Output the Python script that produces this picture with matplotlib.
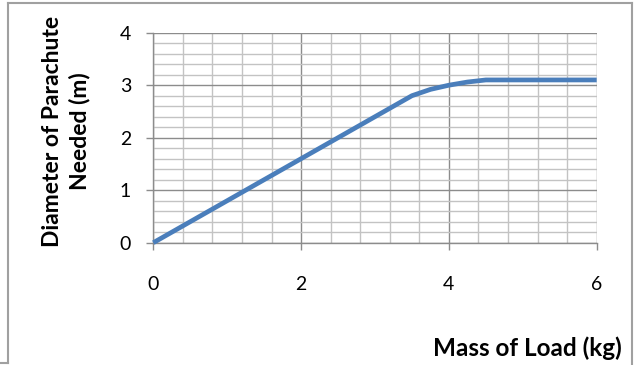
import matplotlib
matplotlib.use("Agg")
import matplotlib.pyplot as plt
from matplotlib.lines import Line2D
from matplotlib.ticker import MultipleLocator

plt.rcParams['font.family'] = ['Lato', 'DejaVu Sans']

mass_kg = [0, 1, 2, 3, 3.5, 3.75, 4, 4.25, 4.5, 5, 6]
diameter_m = [0, 0.8, 1.6, 2.4, 2.8, 2.92, 3.0, 3.06, 3.1, 3.1, 3.1]
x_ticks = [0, 2, 4, 6]
y_ticks = [0, 1, 2, 3, 4]

W, H = 637, 365
fig = plt.figure(figsize=(W / 100, H / 100), dpi=100)
ax = fig.add_axes([153.3 / W, 1 - 242.7 / H, (596.7 - 153.3) / W, (242.7 - 32.7) / H])

ax.plot(mass_kg, diameter_m, color='#4a7ebb', lw=3.4, solid_joinstyle='round',
        solid_capstyle='butt', zorder=5, clip_on=False)

ax.set_xlim(0, 6)
ax.set_ylim(0, 4)
ax.set_xticks(x_ticks)
ax.set_yticks(y_ticks)
ax.xaxis.set_minor_locator(MultipleLocator(0.4))
ax.yaxis.set_minor_locator(MultipleLocator(0.2))

ax.grid(which='major', color='#8c8c8c', lw=1.0)
ax.grid(which='minor', color='#c3c3c3', lw=1.0)
ax.set_axisbelow(True)

for s in ['top', 'right']:
    ax.spines[s].set_visible(False)
for s in ['left', 'bottom']:
    ax.spines[s].set_color('#8c8c8c')
    ax.spines[s].set_linewidth(1.0)

ax.tick_params(which='major', length=5, width=1.0, color='#8c8c8c',
               labelsize=14, labelcolor='black')
ax.tick_params(axis='y', pad=11)
ax.tick_params(axis='x', pad=19)
ax.tick_params(which='minor', length=0)

fig.text(66 / W, 1 - 131 / H, 'Diameter of Parachute\nNeeded (m)', fontsize=16.5,
         fontweight='bold', rotation=90, ha='center', va='center', multialignment='center',
         linespacing=1.3)
fig.text(622 / W, 1 - 348 / H, 'Mass of Load (kg)', fontsize=17.5, fontweight='bold',
         ha='right', va='center')

# chart frame
frame = dict(color='#a0a0a0', lw=1.5, transform=fig.transFigure)
fig.add_artist(Line2D([8 / W, 8 / W], [1 - 3 / H, 1 - 363 / H], **frame))
fig.add_artist(Line2D([8 / W, 632 / W], [1 - 3 / H, 1 - 3 / H], **frame))
fig.add_artist(Line2D([632 / W, 632 / W], [1 - 3 / H, 0], **frame))
fig.add_artist(Line2D([0, 8 / W], [1 - 363 / H, 1 - 363 / H], **frame))

fig.savefig('out.png', dpi=100)
